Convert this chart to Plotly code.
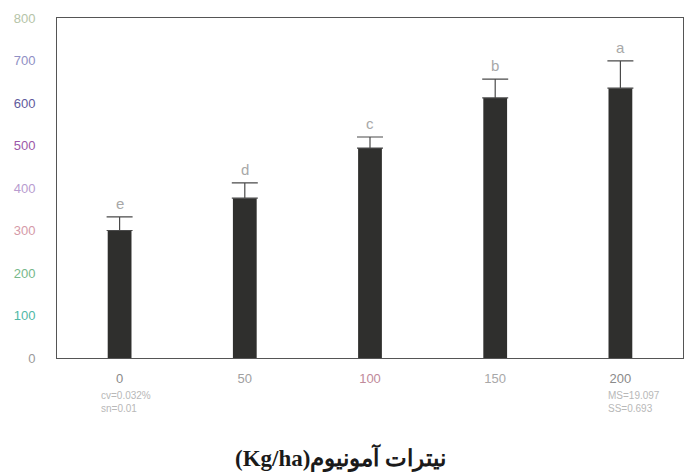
import plotly.graph_objects as go

# Ammonium nitrate rate (kg/ha) and measured response with standard errors
rates = ["0", "50", "100", "150", "200"]
means = [300, 376, 494, 612, 635]
errors = [32, 36, 26, 44, 64]
letters = ["e", "d", "c", "b", "a"]

y_ticks = [0, 100, 200, 300, 400, 500, 600, 700, 800]
y_tick_colors = ["#9a9a9a", "#4fb8a6", "#76b88a", "#d59aa8", "#b89ccf",
                 "#9c58a8", "#5f5a9c", "#8f8fc4", "#b5c4a8"]
x_tick_colors = ["#8a8a8a", "#a0a0a0", "#c08a9a", "#a8a8a8", "#8a8a8a"]

stats_left = ["cv=0.032%", "sn=0.01"]
stats_right = ["MS=19.097", "SS=0.693"]
x_title_unit = "(Kg/ha)"
x_title_name = "نیترات آمونیوم"

pos = list(range(len(rates)))

fig = go.Figure()
fig.add_trace(go.Bar(
    x=pos, y=means, width=0.19,
    marker=dict(color="#2f2f2d", line=dict(width=0)),
    error_y=dict(type="data", symmetric=False, array=errors,
                 arrayminus=[0] * len(errors), visible=True,
                 color="#4a4a4a", thickness=1.2, width=13),
))

# significance letters above each error bar
for p, m, e, l in zip(pos, means, errors, letters):
    fig.add_annotation(x=p, y=m + e, text=l, showarrow=False, yanchor="bottom",
                       yshift=3, font=dict(family="Liberation Sans", size=15, color="#a8a8a8"))

# summary statistics under the first and last categories
fig.add_annotation(x=pos[0], y=0, yref="y", text="<br>".join(stats_left), showarrow=False,
                   yanchor="top", yshift=-30, xshift=6, align="left",
                   font=dict(family="Liberation Sans", size=10, color="#b8b8b8"))
fig.add_annotation(x=pos[-1], y=0, yref="y", text="<br>".join(stats_right), showarrow=False,
                   yanchor="top", yshift=-30, xshift=14, align="left",
                   font=dict(family="Liberation Sans", size=10, color="#b8b8b8"))

fig.add_annotation(x=0.5, xref="paper", y=0, yref="paper",
                   text=f"<b>{x_title_unit}{x_title_name}</b>",
                   showarrow=False, yanchor="top", yshift=-83, xshift=-30,
                   font=dict(family="Liberation Serif, DejaVu Serif, serif", size=23, color="#1a1a1a"))

fig.update_layout(
    width=685, height=472,
    margin=dict(l=57, r=2, t=18, b=114),
    paper_bgcolor="white", plot_bgcolor="white",
    showlegend=False,
    font=dict(family="Liberation Sans, Arial, sans-serif", size=13, color="#888"),
    xaxis=dict(
        range=[-0.5, len(rates) - 0.5],
        tickmode="array", tickvals=pos,
        ticktext=[f"<span style='color:{c}'>{t}</span>" for t, c in zip(rates, x_tick_colors)],
        showline=True, linecolor="#555", linewidth=1, mirror=True,
        ticks="outside", ticklen=8, tickcolor="rgba(0,0,0,0)",
        showgrid=False, zeroline=False,
    ),
    yaxis=dict(
        range=[0, 800], tickmode="array", tickvals=y_ticks,
        ticktext=[f"<span style='color:{c}'>{v}</span>" for v, c in zip(y_ticks, y_tick_colors)],
        showline=True, linecolor="#555", linewidth=1, mirror=True,
        ticks="outside", ticklen=18, tickcolor="rgba(0,0,0,0)",
        showgrid=False, zeroline=False,
    ),
)

fig.write_html("out.html")
